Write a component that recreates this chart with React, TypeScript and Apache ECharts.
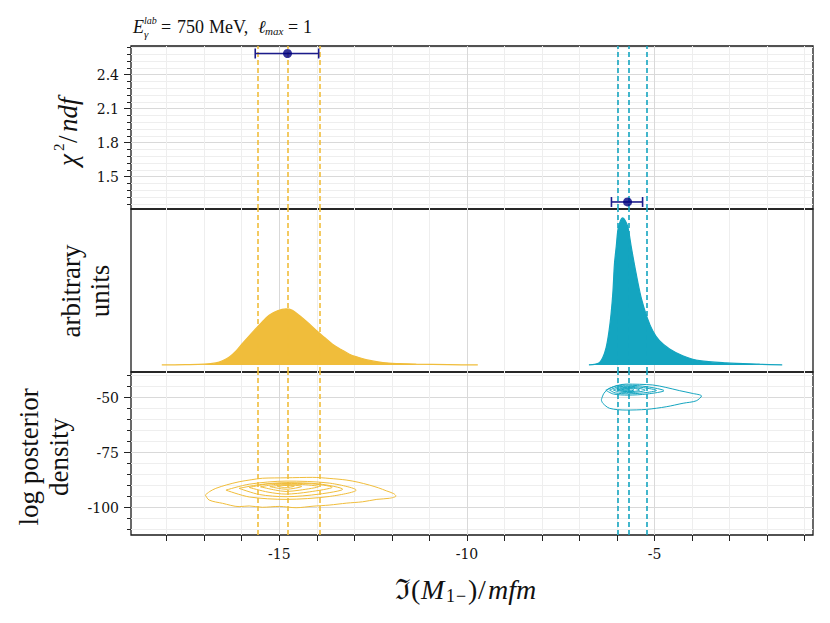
import React, { useEffect, useRef } from "react";
import * as echarts from "echarts";

// ---------- axes ----------
const X_MIN = -18.95;
const X_MAX = -0.78;
const X_MAJOR = [-15, -10, -5];
const X_MINOR = [-18, -17, -16, -14, -13, -12, -11, -9, -8, -7, -6, -4, -3, -2, -1];

const CHI_MIN = 1.214;
const CHI_MAX = 2.652;
const CHI_MAJOR = [1.5, 1.8, 2.1, 2.4];
const CHI_MINOR = [1.26, 1.32, 1.38, 1.44, 1.56, 1.62, 1.68, 1.74, 1.86, 1.92, 1.98, 2.04, 2.16, 2.22, 2.28, 2.34, 2.46, 2.52, 2.58, 2.64];

const HIST_MIN = -0.048;
const HIST_MAX = 1.061;

const LP_MIN = -112.4;
const LP_MAX = -38.3;
const LP_MAJOR = [-100, -75, -50];
const LP_MINOR = [-110, -105, -95, -90, -85, -80, -70, -65, -60, -55, -45, -40];

// ---------- fit results: [x, chi2/ndf, low, high] ----------
const FIT_GOLD = [-14.78, 2.586, -15.64, -13.95];
const FIT_CYAN = [-5.72, 1.276, -6.15, -5.32];

// ---------- posterior quantiles (dashed lines) ----------
const QUANT_GOLD = [-15.56, -14.77, -13.91];
const QUANT_CYAN = [-5.97, -5.69, -5.2];

// ---------- posterior histograms ----------
const HIST_GOLD = [
  [-18.13, 0], [-17.5, 0.002], [-17.0, 0.005], [-16.69, 0.014], [-16.5, 0.03], [-16.33, 0.054],
  [-16.15, 0.095], [-15.98, 0.146], [-15.8, 0.198], [-15.62, 0.248], [-15.45, 0.295], [-15.27, 0.338],
  [-15.05, 0.368], [-14.82, 0.381], [-14.65, 0.372], [-14.47, 0.338], [-14.25, 0.29], [-14.02, 0.236],
  [-13.8, 0.188], [-13.58, 0.141], [-13.35, 0.105], [-13.13, 0.073], [-12.9, 0.052], [-12.69, 0.036],
  [-12.24, 0.016], [-11.8, 0.009], [-11.35, 0.005], [-10.5, 0.002], [-9.71, 0],
];
const HIST_CYAN = [
  [-6.75, 0], [-6.6, 0.004], [-6.47, 0.016], [-6.38, 0.05], [-6.29, 0.12], [-6.22, 0.22],
  [-6.16, 0.347], [-6.11, 0.5], [-6.07, 0.687], [-6.02, 0.81], [-5.98, 0.914], [-5.92, 0.975],
  [-5.85, 1.0], [-5.78, 0.98], [-5.71, 0.936], [-5.62, 0.8], [-5.49, 0.619], [-5.36, 0.46],
  [-5.2, 0.324], [-5.05, 0.233], [-4.87, 0.165], [-4.6, 0.109], [-4.25, 0.063], [-3.8, 0.029],
  [-3.09, 0.014], [-2.2, 0.005], [-1.6, 0],
];

// ---------- log posterior density contours ----------
const GOLD_C1 = [
  [-16.97, -94.2], [-16.85, -92.6], [-16.69, -91.2], [-16.4, -89.6], [-16.07, -88.2], [-15.75, -87.3],
  [-15.45, -86.6], [-14.82, -86.4], [-14.11, -86.2], [-13.65, -86.7], [-13.22, -87.4], [-12.9, -88.4],
  [-12.6, -89.7], [-12.35, -91.0], [-12.15, -92.3], [-11.95, -93.6], [-11.89, -94.7], [-12.06, -95.7],
  [-12.4, -96.2], [-12.78, -97.3], [-13.2, -97.9], [-13.67, -98.8], [-14.1, -99.3], [-14.55, -100.0],
  [-15.0, -99.4], [-15.45, -99.8], [-15.8, -99.2], [-16.07, -99.5], [-16.51, -98.0], [-16.87, -96.5],
  [-16.97, -94.2],
];
const GOLD_C2 = [
  [-16.42, -92.0], [-15.8, -89.3], [-14.82, -87.9], [-13.67, -88.8], [-12.95, -92.0],
  [-13.67, -94.9], [-14.82, -96.2], [-15.8, -95.1], [-16.42, -92.0],
];
const GOLD_C3 = [
  [-16.07, -91.2], [-15.53, -89.5], [-14.82, -88.6], [-13.93, -89.2], [-13.31, -91.6],
  [-13.93, -93.8], [-14.82, -95.0], [-15.53, -94.0], [-16.07, -91.2],
];
const GOLD_C4 = [
  [-15.8, -90.8], [-15.3, -89.2], [-14.82, -89.0], [-14.2, -89.1], [-13.59, -90.7],
  [-14.2, -92.8], [-14.82, -93.8], [-15.3, -92.9], [-15.8, -90.8],
];
const GOLD_C5 = [
  [-15.5, -90.5], [-15.1, -89.4], [-14.82, -89.3], [-14.45, -89.4], [-13.95, -90.4],
  [-14.45, -92.0], [-14.82, -92.6], [-15.1, -92.0], [-15.5, -90.5],
];
const GOLD_C6 = [[-15.25, -90.4], [-14.82, -89.6], [-14.4, -90.3], [-14.82, -91.6], [-15.25, -90.4]];
const GOLD_C7 = [[-15.05, -90.3], [-14.85, -89.9], [-14.6, -90.2], [-14.85, -90.9], [-15.05, -90.3]];

const CYAN_C1 = [
  [-6.42, -51.0], [-6.35, -48.0], [-6.2, -45.7], [-5.76, -43.8], [-5.05, -44.2], [-4.7, -45.3],
  [-4.33, -46.8], [-4.0, -48.0], [-3.75, -49.2], [-3.89, -51.4], [-4.24, -52.5], [-4.69, -54.1],
  [-5.22, -55.3], [-5.76, -55.6], [-6.2, -54.8], [-6.38, -52.5], [-6.42, -51.0],
];
const CYAN_C2 = [
  [-6.3, -46.6], [-6.0, -44.5], [-5.7, -44.3], [-5.2, -45.0], [-4.75, -46.8],
  [-5.2, -48.3], [-5.7, -48.8], [-6.1, -48.3], [-6.3, -46.6],
];
const CYAN_C3 = [
  [-6.2, -46.5], [-5.95, -45.0], [-5.7, -44.8], [-5.3, -45.4], [-4.95, -46.7],
  [-5.3, -47.8], [-5.7, -48.2], [-6.05, -47.8], [-6.2, -46.5],
];
const CYAN_C4 = [[-6.1, -46.5], [-5.85, -45.3], [-5.6, -45.3], [-5.25, -46.6], [-5.6, -47.6], [-5.9, -47.5], [-6.1, -46.5]];
const CYAN_C5 = [[-6.0, -46.4], [-5.8, -45.6], [-5.55, -45.7], [-5.4, -46.5], [-5.6, -47.2], [-5.85, -47.1], [-6.0, -46.4]];
const CYAN_C6 = [[-5.95, -46.3], [-5.8, -45.9], [-5.6, -46.0], [-5.55, -46.5], [-5.7, -46.9], [-5.9, -46.8], [-5.95, -46.3]];
const CYAN_C7 = [[-5.88, -46.3], [-5.78, -46.1], [-5.68, -46.3], [-5.78, -46.6], [-5.88, -46.3]];

const GOLD_CONTOURS = [GOLD_C1, GOLD_C2, GOLD_C3, GOLD_C4, GOLD_C5, GOLD_C6, GOLD_C7];
const CYAN_CONTOURS = [CYAN_C1, CYAN_C2, CYAN_C3, CYAN_C4, CYAN_C5, CYAN_C6, CYAN_C7];

// ---------- text pieces: [text, fontSize, italic, x, y] ----------
const TITLE_PIECES: [string, number, boolean, number, number][] = [
  ["E", 18, true, 133, 27],
  ["lab", 10, true, 144, 20],
  ["γ", 11, true, 144, 34],
  ["=", 18, false, 161, 27],
  ["750", 18, false, 177, 27],
  ["MeV,", 18, false, 209, 27],
  ["ℓ", 18, true, 258, 27],
  ["max", 11, true, 265, 31],
  ["=", 18, false, 288, 27],
  ["1", 18, false, 303, 27],
];
const XTITLE_PIECES: [string, number, boolean, number, number][] = [
  ["ℑ", 28, false, 395, 589],
  ["(", 28, false, 411, 589],
  ["M", 28, true, 421, 589],
  ["1", 18, false, 446, 596],
  ["−", 18, false, 456, 596],
  [")", 28, false, 468, 589],
  ["/", 28, false, 478, 589],
  ["mfm", 28, true, 488, 589],
];
// local coordinates inside a rotated group
const YTITLE_PIECES: [string, number, boolean, number, number][] = [
  ["χ", 27, true, -37, 0],
  ["2", 15, false, -22, -9],
  ["/", 27, false, -14, 0],
  ["ndf", 27, true, -3, 0],
];

// ---------- styles ----------
const GOLD = "#f0bd3b";
const CYAN = "#14a5c0";
const NAVY = "#00007f";
const BAR = "#1c1c8c";
const SERIF = "Liberation Serif";
const TICK_FONT = "DejaVu Serif";
const MAJOR_GRID = "#d9d9d9";
const MINOR_GRID = "#eeeeee";

const GRID_LEFT = 131;
const GRID_RIGHT = 17;
const PANEL_H = 163;
const TOPS = [46, 209, 372];

function xAxes(gridIndex: number, showTicks: boolean) {
  return [
    {
      type: "value", gridIndex, min: X_MIN, max: X_MAX, position: "bottom",
      axisLine: { show: false },
      axisTick: { show: showTicks, customValues: X_MAJOR, length: 6, lineStyle: { color: "#222", width: 1 } },
      axisLabel: { show: showTicks, customValues: X_MAJOR, margin: 12, color: "#111", fontSize: 14, fontFamily: TICK_FONT },
      splitLine: { show: true, lineStyle: { color: MAJOR_GRID, width: 1 } },
    },
    {
      type: "value", gridIndex, min: X_MIN, max: X_MAX, position: "bottom",
      axisLine: { show: false },
      axisTick: { show: showTicks, customValues: X_MINOR, length: 6, lineStyle: { color: "#222", width: 1 } },
      axisLabel: { show: false },
      splitLine: { show: true, lineStyle: { color: MINOR_GRID, width: 1 } },
    },
  ];
}

function yAxesPair(gridIndex: number, min: number, max: number, major: number[], minor: number[], fmt: (v: number) => string) {
  return [
    {
      type: "value", gridIndex, min, max, position: "left",
      axisLine: { show: false },
      axisTick: { show: true, customValues: major, length: 7, lineStyle: { color: "#222", width: 1 } },
      axisLabel: { show: true, customValues: major, margin: 12, color: "#111", fontSize: 14, fontFamily: TICK_FONT, formatter: fmt },
      splitLine: { show: true, lineStyle: { color: MAJOR_GRID, width: 1 } },
    },
    {
      type: "value", gridIndex, min, max, position: "left",
      axisLine: { show: false },
      axisTick: { show: true, customValues: minor, length: 4, lineStyle: { color: "#222", width: 1 } },
      axisLabel: { show: false },
      splitLine: { show: true, lineStyle: { color: MINOR_GRID, width: 1 } },
    },
  ];
}

function quantLines(xi: number, yi: number, values: number[], color: string) {
  return {
    type: "line", xAxisIndex: xi, yAxisIndex: yi, data: [], silent: true, z: 1,
    markLine: {
      silent: true, symbol: ["none", "none"], label: { show: false },
      lineStyle: { color, type: [5, 3], width: 1.6 },
      emphasis: { disabled: true },
      data: values.map((v) => ({ xAxis: v })),
    },
  };
}

function contourSeries(rings: number[][][], color: string) {
  return rings.map((ring) => ({
    type: "line", xAxisIndex: 4, yAxisIndex: 3, data: ring, symbol: "none", showSymbol: false,
    smooth: 0.3, silent: true, z: 3,
    lineStyle: { color, width: 1 },
  }));
}

function pieceTexts(pieces: [string, number, boolean, number, number][]) {
  return pieces.map(([text, size, italic, x, y]) => ({
    type: "text", x, y, silent: true,
    style: {
      text, font: `${italic ? "italic " : ""}${size}px ${SERIF}`, fill: "#111",
      align: "left", verticalAlign: "middle",
    },
  }));
}

export default function App() {
  const ref = useRef<HTMLDivElement>(null);

  useEffect(() => {
    if (!ref.current) return;
    const chart = echarts.init(ref.current, null, { renderer: "svg" });

    const grids = TOPS.map((top) => ({
      left: GRID_LEFT, right: GRID_RIGHT, top, height: PANEL_H,
      show: true, borderColor: "#1a1a1a", borderWidth: 1.3, backgroundColor: "transparent",
      containLabel: false, outerBoundsMode: "none",
    }));

    const option: any = {
      animation: false,
      backgroundColor: "#ffffff",
      grid: grids,
      xAxis: [...xAxes(0, false), ...xAxes(1, false), ...xAxes(2, true)],
      yAxis: [
        ...yAxesPair(0, CHI_MIN, CHI_MAX, CHI_MAJOR, CHI_MINOR, (v: number) => v.toFixed(1)),
        {
          type: "value", gridIndex: 1, min: HIST_MIN, max: HIST_MAX, position: "left",
          axisLine: { show: false }, axisTick: { show: false }, axisLabel: { show: false }, splitLine: { show: false },
        },
        ...yAxesPair(2, LP_MIN, LP_MAX, LP_MAJOR, LP_MINOR, (v: number) => String(v)),
      ],
      series: [
        quantLines(0, 0, QUANT_GOLD, GOLD),
        quantLines(0, 0, QUANT_CYAN, CYAN),
        quantLines(2, 2, QUANT_GOLD, GOLD),
        quantLines(2, 2, QUANT_CYAN, CYAN),
        quantLines(4, 3, QUANT_GOLD, GOLD),
        quantLines(4, 3, QUANT_CYAN, CYAN),
        {
          type: "custom", xAxisIndex: 0, yAxisIndex: 0, z: 5, silent: true,
          data: [FIT_GOLD, FIT_CYAN],
          encode: { x: [0, 2, 3], y: 1 },
          renderItem: (_params: any, api: any) => {
            const y = api.value(1);
            const lo = api.coord([api.value(2), y]);
            const hi = api.coord([api.value(3), y]);
            const cap = 5;
            const st = { stroke: BAR, lineWidth: 1.6 };
            return {
              type: "group",
              children: [
                { type: "line", shape: { x1: lo[0], y1: lo[1], x2: hi[0], y2: hi[1] }, style: st },
                { type: "line", shape: { x1: lo[0], y1: lo[1] - cap, x2: lo[0], y2: lo[1] + cap }, style: st },
                { type: "line", shape: { x1: hi[0], y1: hi[1] - cap, x2: hi[0], y2: hi[1] + cap }, style: st },
              ],
            };
          },
        },
        {
          type: "scatter", xAxisIndex: 0, yAxisIndex: 0, z: 6, silent: true,
          symbol: "circle", symbolSize: 9,
          itemStyle: { color: NAVY },
          data: [[FIT_GOLD[0], FIT_GOLD[1]], [FIT_CYAN[0], FIT_CYAN[1]]],
        },
        {
          type: "line", xAxisIndex: 2, yAxisIndex: 2, data: HIST_GOLD, symbol: "none", showSymbol: false,
          smooth: 0.3, silent: true, z: 3,
          lineStyle: { color: GOLD, width: 1.2 },
          areaStyle: { color: GOLD, opacity: 1 },
        },
        {
          type: "line", xAxisIndex: 2, yAxisIndex: 2, data: HIST_CYAN, symbol: "none", showSymbol: false,
          smooth: 0.3, silent: true, z: 3,
          lineStyle: { color: CYAN, width: 1.2 },
          areaStyle: { color: CYAN, opacity: 1 },
        },
        ...contourSeries(GOLD_CONTOURS, GOLD),
        ...contourSeries(CYAN_CONTOURS, CYAN),
      ],
      graphic: [
        ...pieceTexts(TITLE_PIECES),
        ...pieceTexts(XTITLE_PIECES),
        { type: "group", x: 68, y: 129, rotation: Math.PI / 2, children: pieceTexts(YTITLE_PIECES) },
        {
          type: "text", x: 85, y: 291, rotation: Math.PI / 2, silent: true,
          style: { text: "arbitrary\nunits", font: `27px ${SERIF}`, lineHeight: 29, fill: "#111", align: "center", verticalAlign: "middle" },
        },
        {
          type: "text", x: 44, y: 457, rotation: Math.PI / 2, silent: true,
          style: { text: "log posterior\ndensity", font: `27px ${SERIF}`, lineHeight: 30, fill: "#111", align: "center", verticalAlign: "middle" },
        },
      ],
    };

    chart.setOption(option);
    return () => chart.dispose();
  }, []);

  return <div ref={ref} style={{ position: "fixed", left: 0, top: 0, width: 830, height: 623, background: "#fff" }} />;
}
